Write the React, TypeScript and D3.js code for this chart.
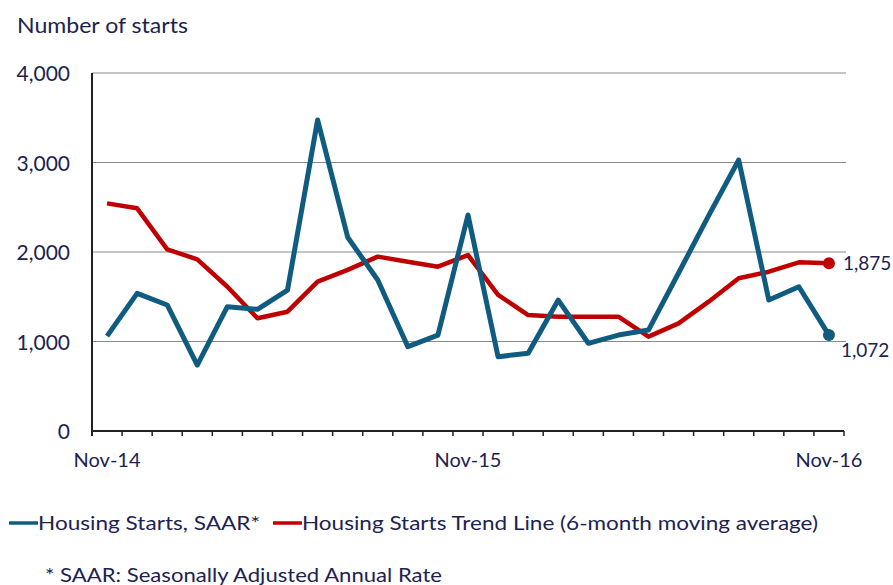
import React from "react";
import * as d3 from "d3";

const months = [
  "Nov-14", "Dec-14", "Jan-15", "Feb-15", "Mar-15", "Apr-15", "May-15", "Jun-15",
  "Jul-15", "Aug-15", "Sep-15", "Oct-15", "Nov-15", "Dec-15", "Jan-16", "Feb-16",
  "Mar-16", "Apr-16", "May-16", "Jun-16", "Jul-16", "Aug-16", "Sep-16", "Oct-16", "Nov-16"
];
const saar = [
  1060, 1538, 1408, 737, 1389, 1360, 1575, 3475, 2165, 1687, 942, 1072, 2413,
  830, 868, 1463, 980, 1072, 1128, 1765, 2406, 3028, 1463, 1612, 1072
];
const trend = [
  2543, 2488, 2030, 1918, 1612, 1259, 1333, 1668, 1800, 1948, 1892, 1836, 1966,
  1520, 1296, 1277, 1277, 1277, 1054, 1203, 1445, 1706, 1780, 1885, 1875
];
const yTicks = [0, 1000, 2000, 3000, 4000];
const labelledMonths = ["Nov-14", "Nov-15", "Nov-16"];

const BLUE = "#0f5c80";
const RED = "#c00000";
const TEXT = "#1c2350";
const FONT = "Lato, 'DejaVu Sans', sans-serif";

export default function App() {
  const left = 92, right = 844, top = 73, bottom = 431;
  const x = d3.scaleBand<string>().domain(months).range([left, right]);
  const y = d3.scaleLinear().domain([0, 4000]).range([bottom, top]);
  const cx = (m: string) => (x(m) as number) + x.bandwidth() / 2;
  const fmt = d3.format(",");

  const line = d3
    .line<number>()
    .x((_, i) => cx(months[i]))
    .y(d => y(d));

  const last = months.length - 1;

  return (
    <svg
      width={893}
      height={585}
      style={{ position: "absolute", left: 0, top: 0, background: "#fff" }}
      fontFamily={FONT}
    >
      <text x={17} y={33} fontSize={21} fill={TEXT} textLength={171} lengthAdjust="spacingAndGlyphs">
        Number of starts
      </text>

      {yTicks.map(t => (
        <g key={t}>
          {t > 0 && (
            <line x1={left} x2={right + 2} y1={y(t)} y2={y(t)} stroke="#8a8a8a" strokeWidth={1.2} />
          )}
          <text x={70} y={y(t) + 8} textAnchor="end" fontSize={21} fill={TEXT}>
            {fmt(t)}
          </text>
        </g>
      ))}

      {/* axes */}
      <line x1={left} x2={left} y1={top} y2={bottom} stroke="#222" strokeWidth={2} />
      <line x1={left} x2={right} y1={bottom} y2={bottom} stroke="#222" strokeWidth={2} />
      {months.map(m => (
        <line
          key={m}
          x1={(x(m) as number) + x.bandwidth()}
          x2={(x(m) as number) + x.bandwidth()}
          y1={bottom}
          y2={bottom + 5}
          stroke="#222"
          strokeWidth={1.5}
        />
      ))}
      <line x1={left} x2={left} y1={bottom} y2={bottom + 5} stroke="#222" strokeWidth={2} />
      {labelledMonths.map(m => (
        <text key={m} x={cx(m)} y={467} textAnchor="middle" fontSize={20} fill={TEXT}>
          {m}
        </text>
      ))}

      <path d={line(trend) || ""} fill="none" stroke={RED} strokeWidth={4.5} strokeLinejoin="round" />
      <path d={line(saar) || ""} fill="none" stroke={BLUE} strokeWidth={5} strokeLinejoin="round" />
      <circle cx={cx(months[last])} cy={y(trend[last])} r={6} fill={RED} />
      <circle cx={cx(months[last])} cy={y(saar[last])} r={6} fill={BLUE} />
      <text x={cx(months[last]) + 14} y={y(trend[last])} dy="0.35em" fontSize={19} fill={TEXT}>
        {fmt(1875)}
      </text>
      <text x={cx(months[last]) + 12} y={y(saar[last]) + 15} dy="0.35em" fontSize={19} fill={TEXT}>
        {fmt(1072)}
      </text>

      {/* legend */}
      <line x1={9} x2={38} y1={523} y2={523} stroke={BLUE} strokeWidth={3.5} />
      <text x={38} y={530} fontSize={20} fill={TEXT} textLength={222} lengthAdjust="spacingAndGlyphs">
        Housing Starts, SAAR*
      </text>
      <line x1={273} x2={302} y1={523} y2={523} stroke={RED} strokeWidth={3.5} />
      <text x={302} y={530} fontSize={20} fill={TEXT} textLength={516} lengthAdjust="spacingAndGlyphs">
        Housing Starts Trend Line (6-month moving average)
      </text>
      <text x={45} y={582} fontSize={20} fill={TEXT} textLength={397} lengthAdjust="spacingAndGlyphs">
        * SAAR: Seasonally Adjusted Annual Rate
      </text>
    </svg>
  );
}
